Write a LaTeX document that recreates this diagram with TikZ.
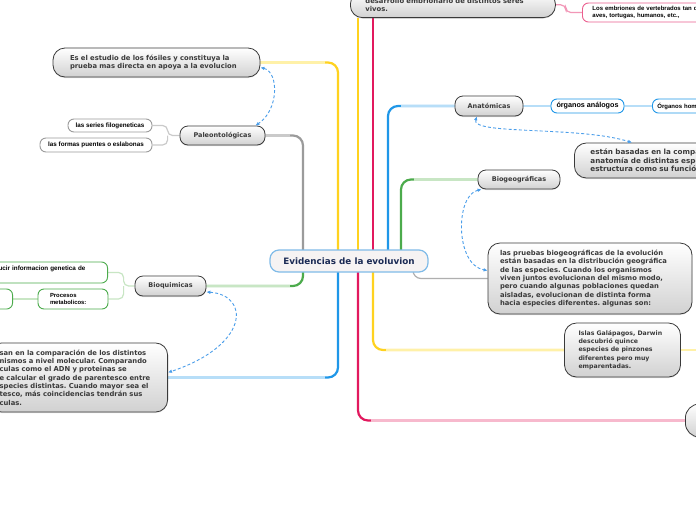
\documentclass[tikz,border=0pt]{standalone}
\usepackage{fontspec}
\setmainfont{DejaVu Sans}
\newfontfamily\leaffont{Liberation Sans}
\usetikzlibrary{arrows.meta,backgrounds,shadows,calc}
\frenchspacing

\definecolor{ylw}{HTML}{FFD21F}
\definecolor{ylwlite}{HTML}{FFF1A8}
\definecolor{rd}{HTML}{E2195E}
\definecolor{rdlite}{HTML}{F7B9CD}
\definecolor{blu}{HTML}{1F97E8}
\definecolor{blulite}{HTML}{B7DEF8}
\definecolor{grn}{HTML}{4CAB4C}
\definecolor{grnlite}{HTML}{C8E6C4}
\definecolor{gry}{HTML}{9B9B9B}
\definecolor{grylite}{HTML}{CACACA}
\definecolor{dsh}{HTML}{4A9EEA}
\definecolor{ink}{HTML}{3A3A3A}
\definecolor{navy}{HTML}{1B2B55}
\definecolor{cenfill}{HTML}{F6F3F3}
\definecolor{cenline}{HTML}{80BBE8}

% main branch: dark trunk, light end
\newcommand\mmbranch[3]{%
  \draw[trunk,#1] (#2) |- (#3);
  \draw[trunk,#1lite] ($(#2 |- #3)!13pt!(#3)$) -- (#3);}

\begin{document}
\begin{tikzpicture}[x=1pt,y=-1pt,
  topic/.style={draw=ink, line width=0.8pt, rounded corners=8pt,
    top color=white, bottom color=black!18, text=ink, inner sep=0pt,
    drop shadow={shadow xshift=0pt,shadow yshift=-1pt,opacity=0.25},
    font=\fontsize{6.5}{8}\selectfont\bfseries},
  note/.style={topic, align=left, inner xsep=15pt, inner ysep=4pt, rounded corners=12pt,
    font=\fontsize{6.8}{8.3}\selectfont\bfseries},
  leaf/.style={draw=#1, fill=white, line width=0.9pt, rounded corners=6pt, inner sep=0pt,
    font=\leaffont\fontsize{6.3}{7.6}\selectfont\bfseries},
  hub/.style={draw=cenline, fill=cenfill, line width=1.2pt, rounded corners=9pt,
    text=navy, font=\fontsize{8.8}{10}\selectfont\bfseries,
    minimum width=158pt, minimum height=22pt},
  trunk/.style={line width=2.2pt, rounded corners=10pt},
  twig/.style={line width=1.2pt, rounded corners=5pt},
  link/.style={dsh, line width=0.9pt, dash pattern=on 3pt off 2.2pt,
    {Latex[length=4pt,width=3.6pt]}-{Latex[length=4pt,width=3.6pt]}}]

\useasboundingbox (0,0) rectangle (696,520);

\node[hub] (cen) at (349,261) {Evidencias de la evoluvion};

% embriologicas
\node[note, anchor=south west, text width=175pt, inner ysep=6pt] (emb) at (350,18)
  {desarrollo embrionario de distintos seres\\vivos.};
\node[leaf=rd!70, anchor=west, align=left, text width=140pt, inner xsep=10pt, minimum height=19pt,
  font=\leaffont\fontsize{6}{7.6}\selectfont\bfseries] (embleaf) at (582,12.5)
  {Los embriones de vertebrados tan d\\aves, tortugas, humanos, etc.,};

% paleontologicas
\node[note, text width=173pt, inner xsep=17pt, minimum height=29pt] (fos) at (156.5,62.5)
  {Es el estudio de los fósiles y constituya la\\prueba mas directa en apoya a la evolucion};
\node[topic, minimum width=85pt, minimum height=19pt] (pal) at (222.5,135.5) {Paleontológicas};
\node[leaf=gry, minimum width=84pt, minimum height=13pt] (ser) at (110,125.5) {las series filogeneticas};
\node[leaf=gry, minimum width=112pt, minimum height=14pt] (pue) at (96,145) {las formas puentes o eslabonas};

% bioquimicas
\node[topic, minimum width=71pt, minimum height=20pt] (bio) at (170.5,286) {Bioquimicas};
\node[leaf=grn, anchor=east, align=left, text width=99pt, inner xsep=10pt, minimum height=21pt] (gen) at (108,272.5)
  {ucir informacion genetica de\\\mbox{}};
\node[leaf=grn, align=left, text width=46pt, inner xsep=12pt, minimum height=20pt,
  font=\leaffont\fontsize{5.9}{7.4}\selectfont\bfseries] (met) at (73,299) {Procesos\\metabolicos:};
\node[leaf=grn, anchor=east, minimum width=60pt, minimum height=20pt] (met0) at (13,299) {};
\node[note, anchor=east, text width=158pt, inner xsep=10pt, minimum height=69pt] (mol) at (168,377.5)
  {san en la comparación de los distintos\\nismos a nivel molecular. Comparando\\culas como el ADN y proteinas se\\e calcular el grado de parentesco entre\\species distintas. Cuando mayor sea el\\tesco, más coincidencias tendrán sus\\culas.};

% anatomicas
\node[topic, minimum width=68pt, minimum height=20pt] (ana) at (489,106) {Anatómicas};
\node[leaf=blu, minimum width=73pt, minimum height=14pt,
  font=\leaffont\fontsize{7.2}{8}\selectfont\bfseries] (ana1) at (587.5,106) {órganos análogos};
\node[leaf=blu, anchor=west, align=left, text width=70pt, inner xsep=5pt, minimum height=14pt,
  font=\leaffont\fontsize{6}{7}\selectfont\bfseries] (ana2) at (652,106) {Órganos hom};
\node[note, anchor=west, text width=140pt, inner xsep=16pt, minimum height=35pt,
  font=\fontsize{7.2}{8.5}\selectfont\bfseries] (anatxt) at (574,160.5)
  {están basadas en la compa\\anatomía de distintas espe\\estructura como su función};

% biogeograficas
\node[topic, minimum width=82pt, minimum height=19pt] (bgeo) at (519,179.5) {Biogeográficas};
\node[note, text width=180pt, inner xsep=12pt, minimum height=71pt] (bgtxt) at (590,278.5)
  {las pruebas biogeográficas de la evolución\\están basadas en la distribución geográfica\\de las especies. Cuando los organismos\\viven juntos evolucionan del mismo modo,\\pero cuando algunas poblaciones quedan\\aisladas, evolucionan de distinta forma\\hacia especies diferentes. algunas son:};
\node[note, text width=88pt, inner xsep=14pt, minimum height=54pt,
  font=\fontsize{6.2}{8.4}\selectfont\bfseries] (isl) at (622.5,350)
  {Islas Galápagos, Darwin\\descubrió quince\\especies de pinzones\\diferentes pero muy\\emparentadas.};
\node[topic, anchor=west, minimum width=40pt, minimum height=33pt, rounded corners=14pt] (far) at (685,420.5) {};

\begin{scope}[on background layer]
  \fill[white] (0,0) rectangle (696,520);
  \coordinate (rim) at (696,0);
  \coordinate (pA) at ([xshift=-46pt]cen.center);
  \coordinate (pB) at ([xshift=-11pt]cen.center);
  \coordinate (pC) at ([xshift=9pt]cen.center);
  \coordinate (pD) at ([xshift=24pt]cen.center);
  \coordinate (pE) at ([xshift=39pt]cen.center);
  \coordinate (pF) at ([xshift=52pt]cen.center);
  \coordinate (pG) at ([xshift=64pt]cen.center);
  \mmbranch{gry}{pA}{pal.east}
  \mmbranch{ylw}{pB}{fos.east}
  \mmbranch{blu}{pE}{ana.west}
  \mmbranch{grn}{pF}{bgeo.west}
  \mmbranch{grn}{pA}{bio.east}
  \mmbranch{blu}{pB}{mol.east}
  \mmbranch{rd}{pC}{far.west}
  \mmbranch{ylw}{pD}{isl.west}
  \draw[trunk,ylw] (pC) -- (pC |- emb.south);
  \draw[trunk,rd] (pD) -- (pD |- emb.south);
  \draw[trunk,ylwlite] (isl.east) -- (isl.east -| rim);
  \draw[twig,gry!80,rounded corners=8pt] (pG) |- (bgtxt.west);
  \draw[twig,grylite] (pal.west) -- ([xshift=-12pt]pal.west) |- (ser.east);
  \draw[twig,grylite] ([xshift=-12pt]pal.west) |- (pue.east);
  \draw[twig,grnlite] (bio.west) -- ([xshift=-11pt]bio.west) |- (gen.east);
  \draw[twig,grnlite] ([xshift=-11pt]bio.west) |- (met.east);
  \draw[twig,grnlite] (met.west) -- (met0.east);
  \draw[twig,blulite] (ana.east) -- (ana1.west);
  \draw[twig,blulite] (ana1.east) -- (ana2.west);
  \draw[twig,rd!45] (emb.east) -- ([xshift=10pt]emb.east) |- (embleaf.west);
\end{scope}

% dashed relations
\draw[link] ([yshift=-5pt]fos.east) .. controls (279,72) and (279,110) .. ([xshift=-10pt]pal.north east);
\draw[link] ([yshift=-6pt]bio.east) .. controls (250,295) and (250,345) .. ([yshift=5pt]mol.east);
\draw[link] ([xshift=-12pt]ana.south) .. controls (470,135) and (580,126) .. ([xshift=58pt]anatxt.north west);
\draw[link] ([xshift=4pt]bgeo.south west) .. controls (455,195) and (455,265) .. ([yshift=8pt]bgtxt.west);
\end{tikzpicture}
\end{document}
